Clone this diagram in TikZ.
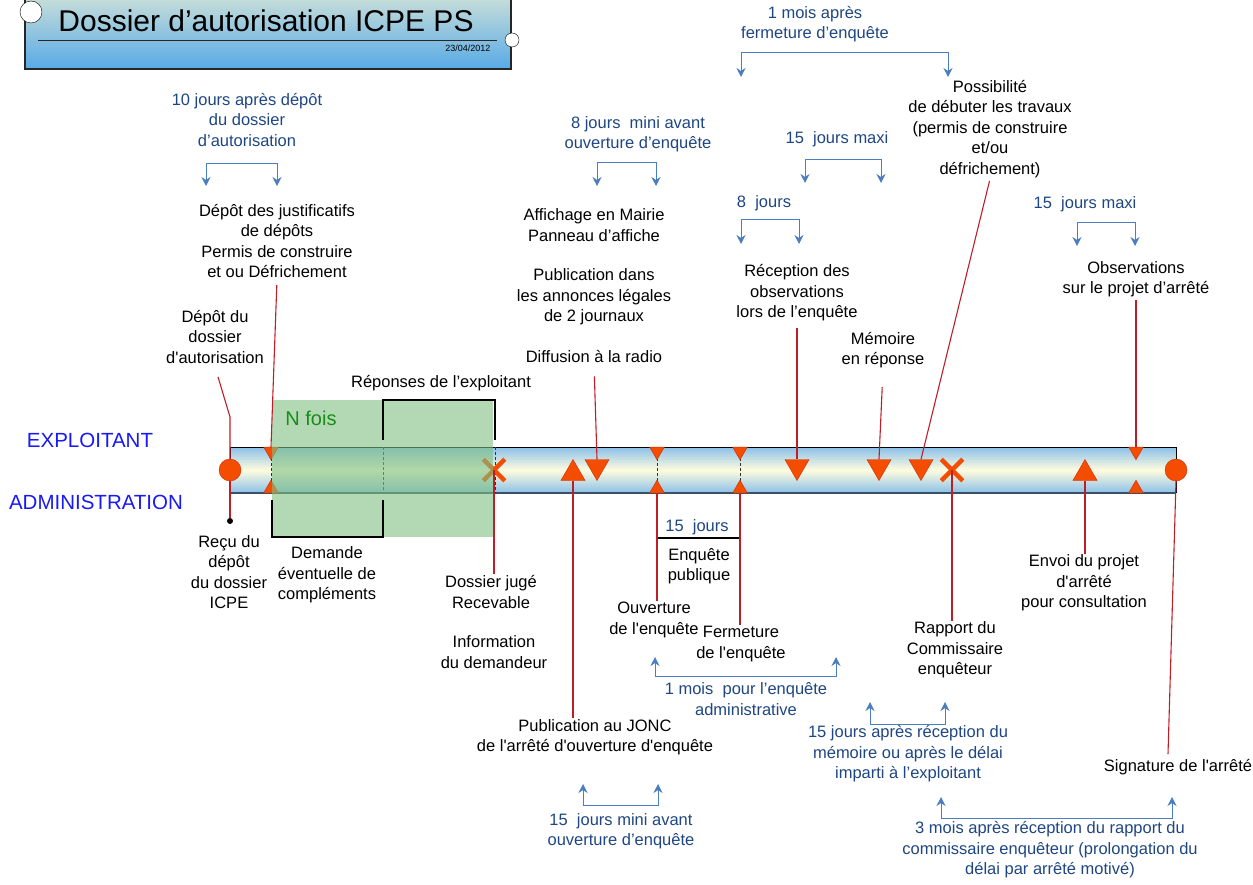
\documentclass[tikz,border=0pt]{standalone}
\usepackage{fontspec}
\setmainfont{Liberation Sans}
\usetikzlibrary{shapes.geometric, shapes.misc, arrows.meta, calc, positioning}
\definecolor{markred}{RGB}{244,76,0}
\definecolor{markedge}{RGB}{205,45,10}
\definecolor{redline}{RGB}{190,30,40}
\definecolor{brkblue}{RGB}{74,126,192}
\definecolor{txtblue}{RGB}{30,70,130}
\definecolor{exblue}{RGB}{25,25,245}
\definecolor{barblue}{RGB}{138,192,234}
\definecolor{baryellow}{RGB}{255,252,222}
\definecolor{barbottom}{RGB}{60,80,100}
\definecolor{greenbox}{RGB}{128,192,130}
\definecolor{nfois}{RGB}{25,140,25}
\definecolor{titletop}{RGB}{226,234,214}
\definecolor{titlebot}{RGB}{88,170,230}
\newcommand{\sq}{\textquotesingle}

\begin{document}
\begin{tikzpicture}[x=1pt,y=-1pt,
  lbl/.style={align=center,font=\fontsize{16.5}{20.5}\selectfont,inner sep=1pt},
  blbl/.style={lbl,text=txtblue},
  rline/.style={color=redline,line width=1.1pt},
  brkt/.style={color=brkblue,line width=1pt,{Stealth[length=9pt,width=9pt]}-{Stealth[length=9pt,width=9pt]}},
  tri/.style={regular polygon,regular polygon sides=3,fill=markred,draw=markedge,inner sep=0pt,minimum size=28pt},
  tridown/.style={tri,shape border rotate=180},
  hgl/.style={tri,minimum size=17pt},
  hgldown/.style={hgl,shape border rotate=180},
  endpt/.style={circle,fill=markred,draw=markedge,minimum size=22pt,inner sep=0pt},
  xmark/.style={cross out,draw=markred,line width=4.5pt,minimum size=17pt,inner sep=0pt},
  handle/.style={circle,draw=black,fill=white,inner sep=0pt}]

\useasboundingbox (0,0) rectangle (1253,885);

% title
\shade[top color=titletop,bottom color=titlebot] (25,-20) rectangle (511,69);
\draw[black!85,line width=1.2pt] (25,-20) rectangle (511,69);
\node[font=\fontsize{30}{36}\selectfont] (titre) at (266,21) {Dossier d’autorisation ICPE PS};
\draw[black!85,line width=1pt] (38,41) -- (497,41);
\node[font=\fontsize{9}{10}\selectfont,anchor=east] (date) at (494,48) {23/04/2012};
\node[handle,minimum size=22pt] (hd-1) at (31,12) {};
\node[handle,minimum size=14pt] (hd-2) at (512,40) {};

% bar
\shade[top color=barblue,bottom color=barblue,middle color=baryellow] (230,447) rectangle (1176,493);
\draw[black] (230,493) -- (230,447) -- (1176,447) -- (1176,493);
\draw[barbottom,line width=1.5pt] (230,493) -- (1176,493);
\foreach \x in {383,495}{
  \draw[black!80,dash pattern=on 3pt off 2pt] (\x,447) -- (\x,493);
};
\foreach \x in {271,657,740}{
  \draw[black!80,dash pattern=on 3pt off 2pt] (\x,458) -- (\x,482);
};

\node[font=\fontsize{20.5}{22}\selectfont,text=exblue] (expl) at (90,440) {EXPLOITANT};
\node[font=\fontsize{20.5}{22}\selectfont,text=exblue] (admin) at (96,502) {ADMINISTRATION};

% marks
\node[endpt] (c-230) at (230,470) {};
\node[endpt] (c-1176) at (1176,470) {};
\foreach \x in {597,797,879,921}{
  \node[tridown] (m-\x) at (\x,466.5) {};
};
\foreach \x in {573,1085}{
  \node[tri] (m-\x) at (\x,473.5) {};
};
\foreach \x in {271,657,740,1136}{
  \node[hgldown] (ht-\x) at (\x,451.3) {};
  \node[hgl] (hb-\x) at (\x,488.7) {};
};
\node[xmark] (x-494) at (494,470) {};
\node[xmark] (x-952) at (952,470) {};

% demandes de complements
\fill[greenbox,opacity=0.6] (272,400) rectangle (493,537);
\draw[black,line width=1.5pt] (383,440) -- (383,400) -- (495,400) -- (495,440);
\draw[black,line width=1.5pt] (272,500) -- (272,537) -- (383,537) -- (383,500);
\node[font=\fontsize{20}{22}\selectfont,text=nfois] (nfois) at (311,418) {N fois};
\node[lbl] (l-rep) at (441,383) {Réponses de l’exploitant};

% enquete publique
\draw[black,line width=1.5pt] (657,493) -- (657,538) -- (740,538) -- (740,493);
\node[blbl] (b-15j) at (697,527) {15\ \ jours};
\node[lbl] (l-enq) at (699,566) {Enquête\\publique};

% labels above
\node[lbl] (l-depot) at (215,337) {Dépôt du\\dossier\\d\sq autorisation};
\node[lbl] (l-justif) at (277,241) {Dépôt des justificatifs\\de dépôts\\Permis de construire\\ et ou Défrichement};
\node[lbl] (l-affich) at (594,225) {Affichage en Mairie\\Panneau d’affiche};
\node[lbl] (l-pub) at (594,297) {Publication dans\\les annonces légales\\de 2 journaux};
\node[lbl] (l-radio) at (594,357) {Diffusion à la radio};
\node[lbl] (l-recep) at (797,293) {Réception des\\observations\\lors de l’enquête};
\node[lbl] (l-mem) at (883,350) {Mémoire\\en réponse};
\node[lbl] (l-poss) at (990,129) {Possibilité\\de débuter les travaux\\(permis de construire\\et/ou\\défrichement)};
\node[lbl] (l-obs) at (1136,279) {Observations\\sur le projet d’arrêté};

% labels below
\node[lbl] (l-recu) at (229,572) {Reçu du\\dépôt\\du dossier\\ICPE};
\node[lbl] (l-dem) at (327,575) {Demande\\éventuelle de\\compléments};
\node[lbl] (l-recev) at (491,592) {Dossier jugé\\Recevable};
\node[lbl] (l-info) at (494,652) {Information\\du demandeur};
\node[lbl] (l-ouv) at (654,620) {Ouverture\\de l\sq enquête};
\node[lbl] (l-ferm) at (741,644) {Fermeture\\de l\sq enquête};
\node[lbl] (l-jonc) at (595,737) {Publication au JONC\\de l\sq arrêté d\sq ouverture d\sq enquête};
\node[lbl] (l-rapp) at (955,650) {Rapport du\\Commissaire\\enquêteur};
\node[lbl] (l-envoi) at (1084,583) {Envoi du projet\\d\sq arrêté\\pour consultation};
\node[lbl] (l-sign) at (1178,767) {Signature de l\sq arrêté};

% delais
\node[blbl] (b-10j) at (247,120) {10 jours après dépôt\\du dossier\\d’autorisation};
\node[blbl] (b-8jm) at (638,134) {8 jours\ \ mini avant\\ouverture d’enquête};
\node[blbl] (b-1m) at (815,24) {1 mois après\\fermeture d’enquête};
\node[blbl] (b-15max) at (837,139) {15\ \ jours maxi};
\node[blbl] (b-8j) at (764,203) {8\ \ jours};
\node[blbl] (b-15max2) at (1085,204) {15\ \ jours maxi};
\node[blbl] (b-1mp) at (746,699) {1 mois\ \ pour l’enquête\\administrative};
\node[blbl] (b-15ap) at (908,754) {15 jours après réception du\\mémoire ou après le délai\\imparti à l’exploitant};
\node[blbl] (b-15mi) at (621,831) {15\ \ jours mini avant\\ouverture d’enquête};
\node[blbl] (b-3m) at (1050,850) {3 mois après réception du rapport du\\commissaire enquêteur (prolongation du\\délai par arrêté motivé)};

\foreach \xa/\xb/\ya/\yb in {206/277/164/186, 597/656/163/186, 741/948/53/77, 805/881/160/183,
  741/799/220/244, 1077/1135/223/246, 655/836/676/657, 870/945/724/702, 583/658/805/784, 941/1172/818/797}{
  \draw[brkt] (\xa,\yb) -- (\xa,\ya) -- (\xb,\ya) -- (\xb,\yb);
};

% red connectors
\coordinate (k-230) at (230,417);
\node[circle,fill=black,inner sep=0pt,minimum size=6pt] (d-230) at (230,521) {};
\draw[rline] ($(l-depot.south)+(3,12)$) -- (k-230) -- (c-230.north);
\draw[rline] (c-230.south) -- (d-230);
\draw[rline,shorten <=6pt] (l-justif.south) -- (ht-271.north);
\draw[rline,shorten <=12pt] (l-radio.south) -- (m-597.north);
\draw[rline,shorten <=6pt] (l-recep.south) -- (m-797.north);
\draw[rline,shorten <=18pt] (l-mem.south) -- (m-879.north);
\draw[rline,shorten <=2pt] (l-poss.south) -- (m-921.north);
\draw[rline,shorten <=2pt] (l-obs.south) -- (ht-1136.north);
\draw[rline] (x-494.center) -- (x-494 |- l-recev.north);
\draw[rline] (m-573.south) -- (m-573 |- l-jonc.north);
\draw[rline] (hb-657.south) -- (hb-657 |- l-ouv.north);
\draw[rline] (hb-740.south) -- (hb-740 |- l-ferm.north);
\draw[rline] (x-952.center) -- (x-952 |- l-rapp.north);
\draw[rline] (m-1085.south) -- (m-1085 |- l-envoi.north);
\draw[rline] (c-1176.south) -- ($(l-sign.north)+(-10,-4)$);
\end{tikzpicture}
\end{document}
